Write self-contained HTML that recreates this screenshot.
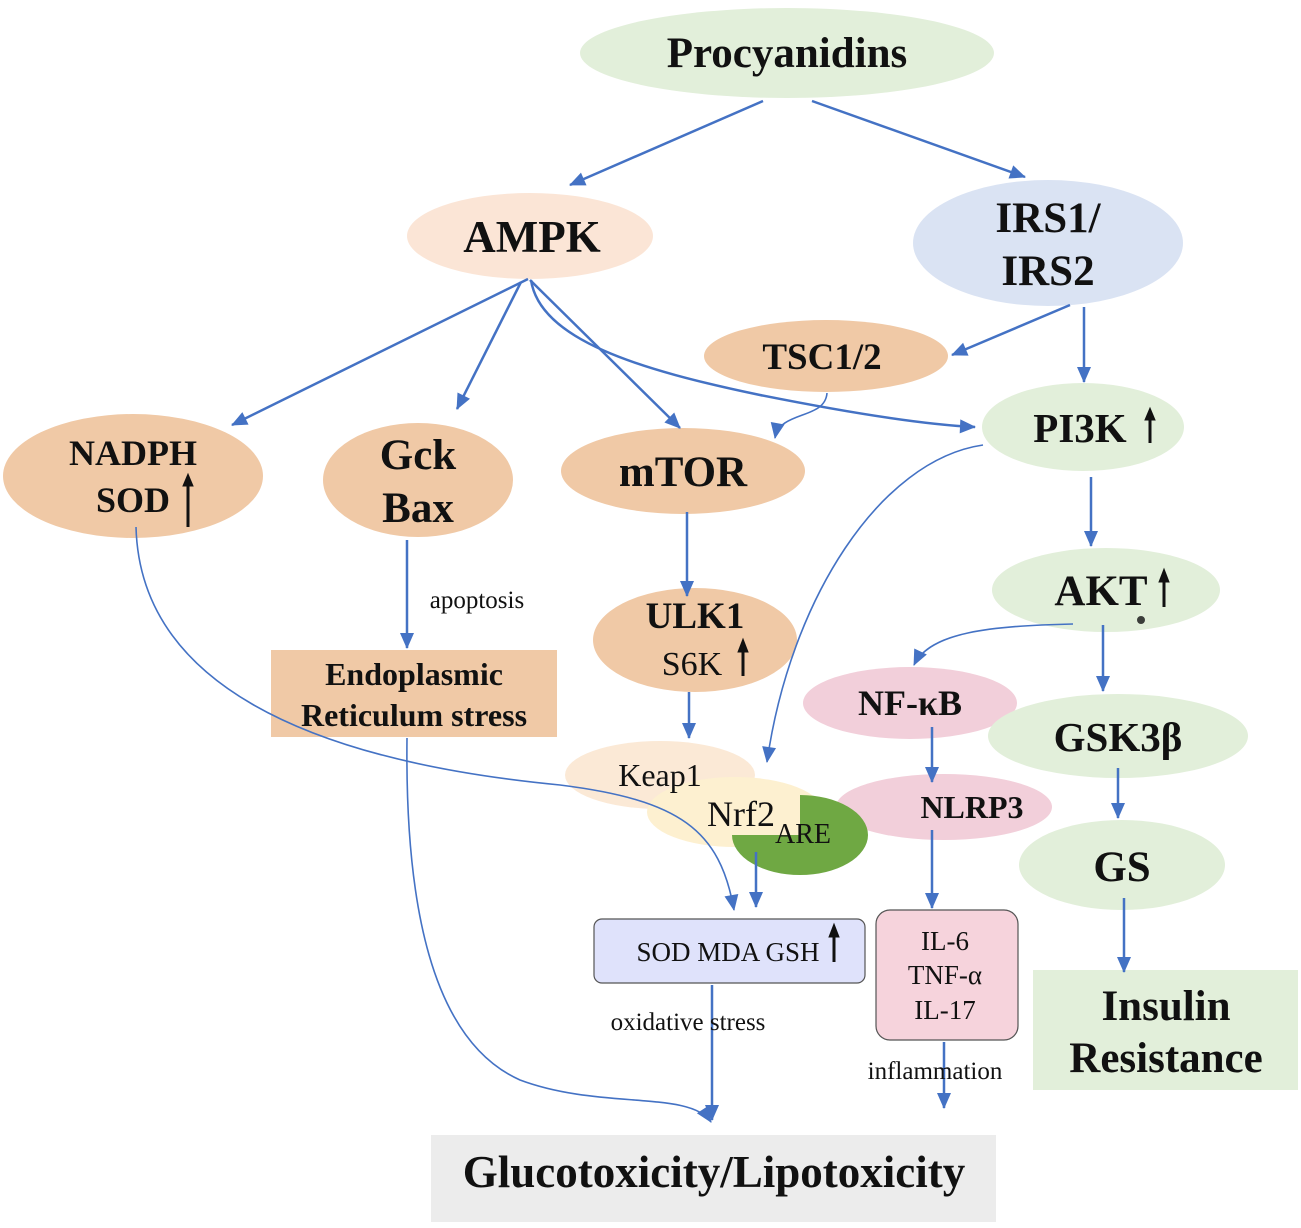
<!DOCTYPE html>
<html><head><meta charset="utf-8"><style>
html,body{margin:0;padding:0;background:#fff;}
svg{display:block;}
.b{font-family:"Liberation Serif",serif;font-weight:bold;fill:#111;text-anchor:middle;}
.r{font-family:"Liberation Serif",serif;fill:#111;text-anchor:middle;}
.l{stroke:#4472c4;stroke-width:2.5;fill:none;}
.t{stroke:#4472c4;stroke-width:1.6;fill:none;}
</style></head><body>
<svg width="1301" height="1228" viewBox="0 0 1301 1228" xmlns="http://www.w3.org/2000/svg">
<defs>
<marker id="a" viewBox="-16 -8 18 16" refX="0" refY="0" markerWidth="18" markerHeight="16" orient="auto" markerUnits="userSpaceOnUse"><path d="M-15,-7 L1,0 L-15,7 z" fill="#4472c4"/></marker>
</defs>
<!-- nodes -->
<ellipse cx="787" cy="53" rx="207" ry="45" fill="#e2efda"/>
<text class="b" x="787" y="67" font-size="43">Procyanidins</text>
<ellipse cx="530" cy="236" rx="123" ry="43" fill="#fbe5d6"/>
<text class="b" x="532" y="252" font-size="45">AMPK</text>
<ellipse cx="1048" cy="243" rx="135" ry="63" fill="#dae3f3"/>
<text class="b" x="1048" y="232" font-size="43">IRS1/</text>
<text class="b" x="1048" y="285" font-size="43">IRS2</text>
<ellipse cx="826" cy="356" rx="122" ry="36" fill="#f0c9a6"/>
<text class="b" x="822" y="369" font-size="37">TSC1/2</text>
<ellipse cx="1083" cy="427" rx="101" ry="44" fill="#e2efda"/>
<text class="b" x="1080" y="442" font-size="41">PI3K</text>
<ellipse cx="133" cy="476" rx="130" ry="62" fill="#f0c9a6"/>
<text class="b" x="133" y="465" font-size="36">NADPH</text>
<text class="b" x="133" y="512" font-size="36">SOD</text>
<ellipse cx="418" cy="480" rx="95" ry="57" fill="#f0c9a6"/>
<text class="b" x="418" y="469" font-size="43">Gck</text>
<text class="b" x="418" y="522" font-size="43">Bax</text>
<ellipse cx="683" cy="471" rx="122" ry="43" fill="#f0c9a6"/>
<text class="b" x="683" y="486" font-size="43">mTOR</text>
<ellipse cx="695" cy="640" rx="102" ry="52" fill="#f0c9a6"/>
<text class="b" x="695" y="628" font-size="37">ULK1</text>
<text class="r" x="692" y="675" font-size="34">S6K</text>
<ellipse cx="1106" cy="590" rx="114" ry="42" fill="#e2efda"/>
<text class="b" x="1101" y="605" font-size="43">AKT</text>
<ellipse cx="910" cy="703" rx="107" ry="36" fill="#f2cfda"/>
<text class="b" x="910" y="715" font-size="36">NF-κB</text>
<ellipse cx="1118" cy="736" rx="130" ry="42" fill="#e2efda"/>
<text class="b" x="1118" y="751" font-size="41">GSK3β</text>
<ellipse cx="944" cy="807" rx="108" ry="33" fill="#f2cfda"/>
<text class="b" x="972" y="818" font-size="32">NLRP3</text>
<ellipse cx="1122" cy="865" rx="103" ry="45" fill="#e2efda"/>
<text class="b" x="1122" y="881" font-size="43">GS</text>
<rect x="271" y="650" width="286" height="87" fill="#f0c9a6"/>
<text class="b" x="414" y="685" font-size="32">Endoplasmic</text>
<text class="b" x="414" y="726" font-size="32">Reticulum stress</text>
<ellipse cx="660" cy="775" rx="95" ry="34" fill="#fbe9d6"/>
<ellipse cx="735" cy="812" rx="88" ry="35" fill="#fdf0d0"/>
<path d="M800,835 L800,795 A68,40 0 1,1 732,835 Z" fill="#6fa843"/>
<text class="r" x="660" y="786" font-size="32">Keap1</text>
<text class="r" x="741" y="826" font-size="36">Nrf2</text>
<text class="r" x="803" y="843" font-size="28">ARE</text>
<rect x="594" y="919" width="271" height="64" rx="8" fill="#dfe2fb" stroke="#555" stroke-width="1.2"/>
<text class="r" x="728" y="961" font-size="27">SOD MDA GSH</text>
<rect x="876" y="910" width="142" height="130" rx="14" fill="#f6d3dc" stroke="#555" stroke-width="1.2"/>
<text class="r" x="945" y="950" font-size="27">IL-6</text>
<text class="r" x="945" y="984" font-size="27">TNF-α</text>
<text class="r" x="945" y="1019" font-size="27">IL-17</text>
<rect x="1033" y="970" width="265" height="120" fill="#e2efda"/>
<text class="b" x="1166" y="1020" font-size="43">Insulin</text>
<text class="b" x="1166" y="1072" font-size="43">Resistance</text>
<rect x="431" y="1135" width="565" height="87" fill="#ececec"/>
<text class="b" x="714" y="1187" font-size="45">Glucotoxicity/Lipotoxicity</text>
<!-- up arrows (black) -->
<g stroke="#111" stroke-width="3" fill="#111">
<line x1="188" y1="527" x2="188" y2="484"/><path d="M183,486 L188,474 L193,486 Z" stroke-width="1"/>
<line x1="1150" y1="443" x2="1150" y2="418"/><path d="M1145,420 L1150,408 L1155,420 Z" stroke-width="1"/>
<line x1="1164" y1="607" x2="1164" y2="580"/><path d="M1159,582 L1164,569 L1169,582 Z" stroke-width="1"/>
<line x1="743" y1="676" x2="743" y2="650"/><path d="M738,652 L743,639 L748,652 Z" stroke-width="1"/>
<line x1="834" y1="962" x2="834" y2="935"/><path d="M829,937 L834,924 L839,937 Z" stroke-width="1"/>
</g>
<circle cx="1141" cy="620" r="4" fill="#111" opacity="0.8"/>
<!-- connectors -->
<line class="l" x1="763" y1="101" x2="570" y2="185" marker-end="url(#a)"/>
<line class="l" x1="812" y1="101" x2="1025" y2="177" marker-end="url(#a)"/>
<line class="l" x1="528" y1="279" x2="232" y2="425" marker-end="url(#a)"/>
<line class="l" x1="521" y1="282" x2="457" y2="409" marker-end="url(#a)"/>
<line class="l" x1="530" y1="280" x2="680" y2="428" marker-end="url(#a)"/>
<path class="l" d="M531,280 C540,340 640,370 760,395 C860,415 930,425 975,427" marker-end="url(#a)"/>
<path class="t" d="M827,393 C825,420 780,410 775,438" marker-end="url(#a)"/>
<line class="l" x1="1070" y1="305" x2="952" y2="355" marker-end="url(#a)"/>
<line class="l" x1="1084" y1="307" x2="1084" y2="382" marker-end="url(#a)"/>
<path class="t" d="M983,445 C880,460 790,600 767,762" marker-end="url(#a)"/>
<line class="l" x1="1091" y1="477" x2="1091" y2="546" marker-end="url(#a)"/>
<path class="t" d="M1073,624 C990,626 930,632 914,665" marker-end="url(#a)"/>
<line class="l" x1="1103" y1="625" x2="1103" y2="691" marker-end="url(#a)"/>
<line class="l" x1="1118" y1="768" x2="1118" y2="818" marker-end="url(#a)"/>
<line class="l" x1="1124" y1="898" x2="1124" y2="972" marker-end="url(#a)"/>
<line class="l" x1="932" y1="727" x2="932" y2="782" marker-end="url(#a)"/>
<line class="l" x1="932" y1="830" x2="932" y2="908" marker-end="url(#a)"/>
<line class="l" x1="944" y1="1042" x2="944" y2="1108" marker-end="url(#a)"/>
<line class="l" x1="687" y1="512" x2="687" y2="596" marker-end="url(#a)"/>
<line class="l" x1="689" y1="692" x2="689" y2="738" marker-end="url(#a)"/>
<line class="l" x1="756" y1="852" x2="756" y2="907" marker-end="url(#a)"/>
<line class="l" x1="407" y1="540" x2="407" y2="648" marker-end="url(#a)"/>
<path class="t" d="M136,527 C140,680 300,760 560,785 C680,800 720,830 734,910" marker-end="url(#a)"/>
<path class="t" d="M407,738 C405,900 430,1040 520,1080 C600,1110 690,1090 711,1122" marker-end="url(#a)"/>
<line class="l" x1="712" y1="985" x2="712" y2="1120" marker-end="url(#a)"/>
<!-- labels -->
<text class="r" x="477" y="608" font-size="25">apoptosis</text>
<text class="r" x="688" y="1030" font-size="25">oxidative stress</text>
<text class="r" x="935" y="1079" font-size="25">inflammation</text>
</svg>
</body></html>
